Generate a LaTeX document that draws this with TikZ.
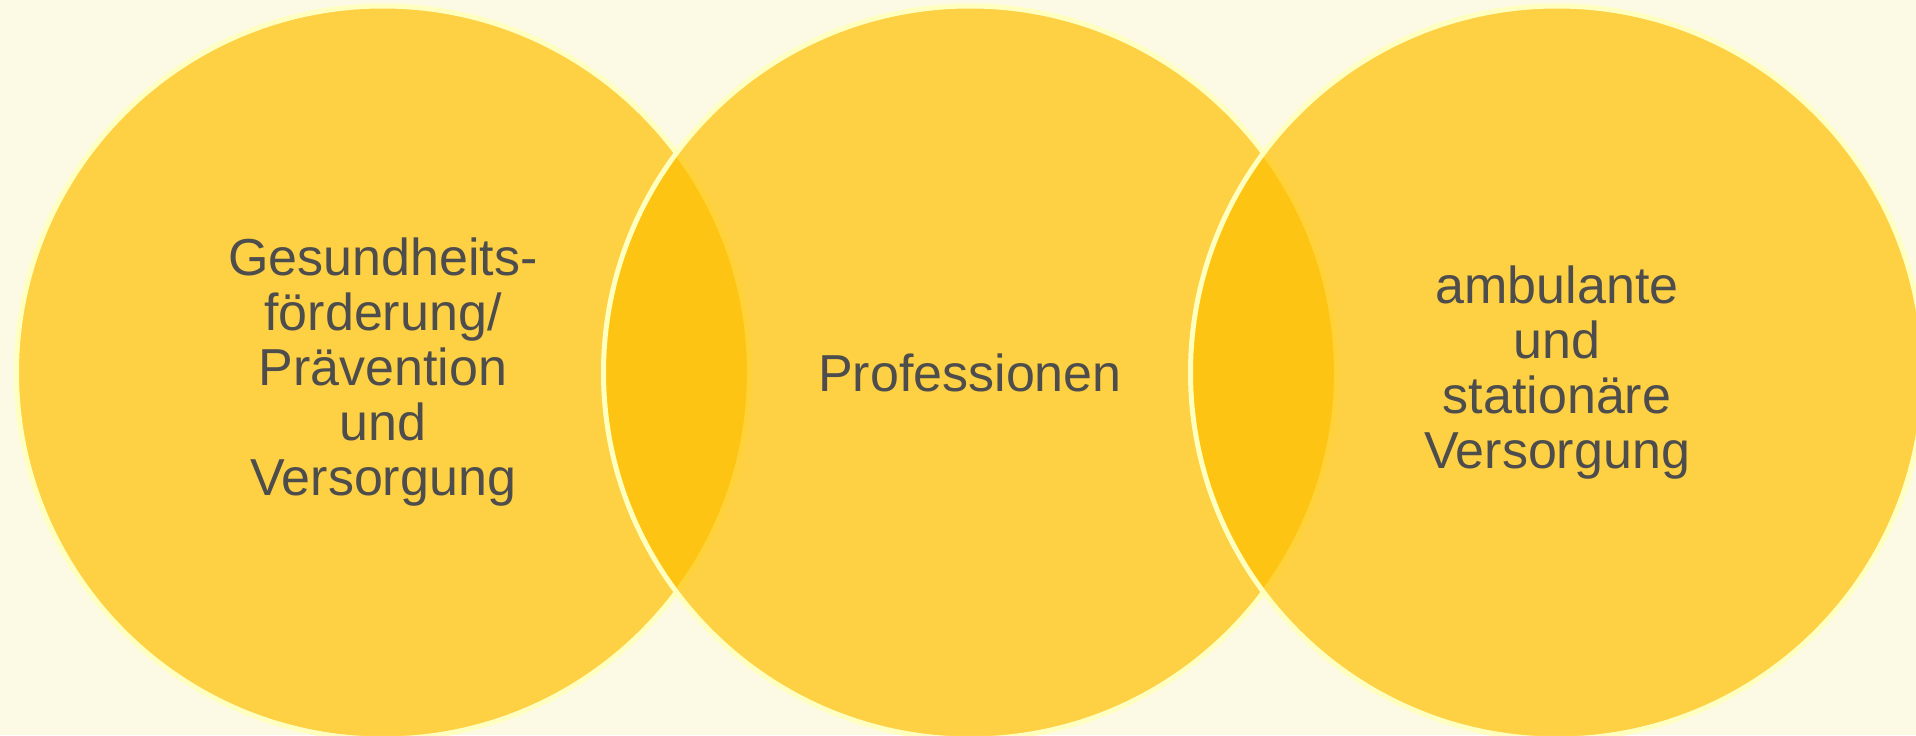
\documentclass[tikz,border=0pt]{standalone}
\usepackage{fontspec}
\setmainfont{Liberation Sans}
\usepackage{tikz}
\usetikzlibrary{positioning}
\usepackage{xcolor}
\definecolor{pagecolor}{RGB}{252,249,228}
\definecolor{fieldcolor}{RGB}{255,192,0}
\definecolor{rimcolor}{RGB}{255,255,192}
\definecolor{labelcolor}{RGB}{77,77,77}

\begin{document}
\begin{tikzpicture}[
    x=0.5pt, y=-0.5pt,
    node distance=293.5pt, on grid,
    field/.style={circle, draw=rimcolor, line width=2.5pt, fill=fieldcolor, fill opacity=0.7, text opacity=1, minimum size=366.5pt, inner sep=0pt, align=center, text=labelcolor, font=\fontsize{26}{27.5}\selectfont}
]
\useasboundingbox[fill=pagecolor] (0,0) rectangle (1916,735);

% drei Bereiche, leicht ueberlappend
\node[field] (praev) at (383,372.5) {Gesundheits-\\förderung/\\Prävention\\und\\Versorgung};
\node[field, right=of praev] (prof) {Professionen};
\node[field, right=of prof] (vers) {ambulante\\und\\stationäre\\Versorgung};

\end{tikzpicture}
\end{document}
